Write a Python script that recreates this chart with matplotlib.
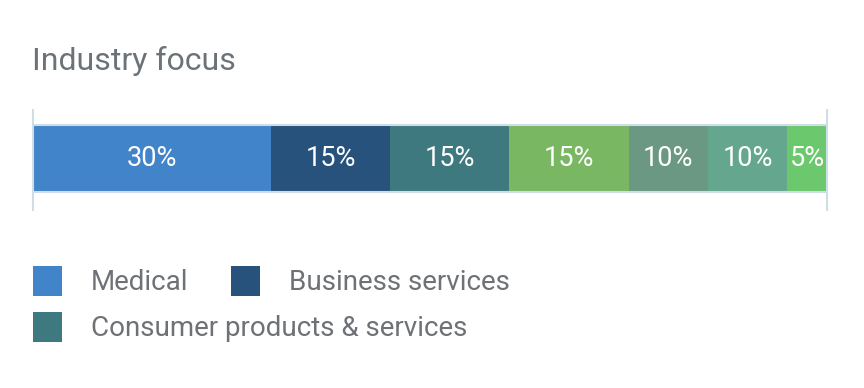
import matplotlib.pyplot as plt
from matplotlib.patches import Rectangle

plt.rcParams['font.family'] = ['Roboto', 'DejaVu Sans']

# data
segments = ['Medical', 'Business services', 'Consumer products & services',
            'Segment 4', 'Segment 5', 'Segment 6', 'Segment 7']
shares = [30, 15, 15, 15, 10, 10, 5]
colors = ['#4284c9', '#26527c', '#3f7980', '#79b763', '#6a9882', '#64a78e', '#6bc86d']
legend_shown = 3  # only the first three entries fit in the legend

W, H = 864, 388
fig = plt.figure(figsize=(W / 100, H / 100), dpi=100)
fig.patch.set_facecolor('white')

def px(x, y):
    # pixel position (from top left) -> figure fraction
    return x / W, 1 - y / H

fig.text(*px(32, 70), 'Industry focus', fontsize=23, color='#6b7378', va='baseline')

ax = fig.add_axes([33 / W, 1 - 210 / H, 794 / W, 100 / H])
ax.set_xlim(0, sum(shares))
ax.set_ylim(0, 100)
left = 0
for name, val, col in zip(segments, shares, colors):
    bars = ax.barh(51.5, val, height=67, left=left, color=col, edgecolor='none')
    ax.bar_label(bars, labels=[f'{val}%'], label_type='center',
                 color='white', fontsize=19.5)
    left += val
ax.axhline(85, color='#cfdde6', lw=1.5)
ax.axhline(18, color='#cfdde6', lw=1.5)
for s in ['top', 'bottom']:
    ax.spines[s].set_visible(False)
for s in ['left', 'right']:
    ax.spines[s].set_color('#cfdde6')
    ax.spines[s].set_linewidth(1.5)
ax.set_xticks([])
ax.set_yticks([])

# legend, laid out as rows that wrap
legend_pos = [(33, 266), (231, 266), (33, 312)]
for (x, y), name, col in zip(legend_pos, segments[:legend_shown], colors[:legend_shown]):
    fx, fy = px(x, y + 30)
    fig.patches.append(Rectangle((fx, fy), 29 / W, 30 / H, transform=fig.transFigure,
                                 facecolor=col, edgecolor='none'))
    fig.text(*px(x + 58, y + 24), name, fontsize=20, color='#6e7175', va='baseline')

fig.savefig('out.png', dpi=100, facecolor='white')
